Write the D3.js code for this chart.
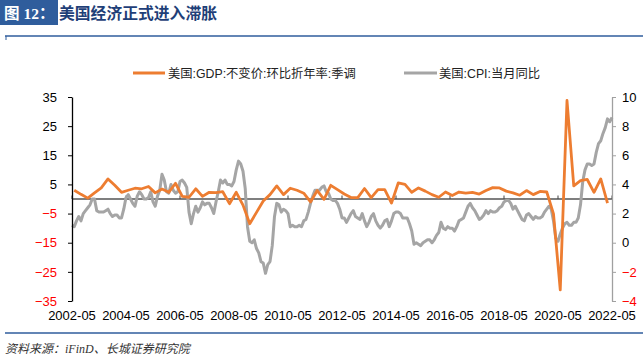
<!DOCTYPE html>
<html><head><meta charset="utf-8">
<script src="https://cdn.jsdelivr.net/npm/d3@7"></script>
<style>body{margin:0;background:#fff;} svg{display:block;}</style>
</head><body>
<svg id="c" width="643" height="358"></svg>
<script>
// ---------- DATA ----------
const startLabel = "2002-05";
// US CPI YoY (%), monthly 2002-05 .. 2022-05
const cpiValues = [
  1.2,1.1,1.5,1.8,1.5,2.0,2.2,2.4,
  2.6,3.0,3.0,2.2,2.1,2.1,2.1,2.2,2.3,2.0,1.8,1.9,
  1.9,1.7,1.7,2.3,3.1,3.3,3.0,2.7,2.5,3.2,3.5,3.3,
  3.0,3.0,3.1,3.5,2.8,2.5,3.2,3.6,4.7,4.3,3.5,3.4,
  4.0,3.6,3.4,3.5,4.2,4.3,4.1,3.8,2.1,1.3,2.0,2.5,
  2.1,2.4,2.8,2.6,2.7,2.7,2.4,2.0,2.8,3.5,4.3,4.1,
  4.3,4.0,4.0,3.9,4.2,5.0,5.6,5.4,4.9,3.7,1.1,0.1,
  0.0,0.2,-0.4,-0.7,-1.3,-1.4,-2.1,-1.5,-1.3,-0.2,1.8,2.7,
  2.6,2.1,2.3,2.2,2.0,1.1,1.2,1.1,1.1,1.2,1.1,1.5,
  1.6,2.1,2.7,3.2,3.6,3.6,3.6,3.8,3.9,3.5,3.4,3.0,
  2.9,2.9,2.7,2.3,1.7,1.7,1.4,1.7,2.0,2.2,1.8,1.7,
  1.6,2.0,1.5,1.1,1.4,1.8,2.0,1.5,1.2,1.0,1.2,1.5,
  1.6,1.1,1.5,2.0,2.1,2.1,2.0,1.7,1.7,1.7,1.3,0.8,
  -0.1,0.0,-0.1,-0.2,0.0,0.1,0.2,0.2,0.0,0.2,0.5,0.7,
  1.4,1.0,0.9,1.1,1.0,1.0,0.8,1.1,1.5,1.6,1.7,2.1,
  2.5,2.7,2.4,2.2,1.9,1.6,1.7,1.9,2.2,2.0,2.2,2.1,
  2.1,2.2,2.4,2.5,2.8,2.9,2.9,2.7,2.3,2.5,2.2,1.9,
  1.6,1.5,1.9,2.0,1.8,1.6,1.8,1.7,1.7,1.8,2.1,2.3,
  2.5,2.3,1.5,0.3,0.1,0.6,1.0,1.3,1.4,1.2,1.2,1.4,
  1.4,1.7,2.6,4.2,5.0,5.4,5.4,5.3,5.4,6.2,6.8,7.0,
  7.5,7.9,8.5,8.3,8.6
];
// US real GDP, QoQ annualized SA (%), 2002Q2 .. 2022Q1
const gdpQuarters = [
  "2002Q2","2002Q3","2002Q4",
  "2003Q1","2003Q2","2003Q3","2003Q4",
  "2004Q1","2004Q2","2004Q3","2004Q4",
  "2005Q1","2005Q2","2005Q3","2005Q4",
  "2006Q1","2006Q2","2006Q3","2006Q4",
  "2007Q1","2007Q2","2007Q3","2007Q4",
  "2008Q1","2008Q2","2008Q3","2008Q4",
  "2009Q1","2009Q2","2009Q3","2009Q4",
  "2010Q1","2010Q2","2010Q3","2010Q4",
  "2011Q1","2011Q2","2011Q3","2011Q4",
  "2012Q1","2012Q2","2012Q3","2012Q4",
  "2013Q1","2013Q2","2013Q3","2013Q4",
  "2014Q1","2014Q2","2014Q3","2014Q4",
  "2015Q1","2015Q2","2015Q3","2015Q4",
  "2016Q1","2016Q2","2016Q3","2016Q4",
  "2017Q1","2017Q2","2017Q3","2017Q4",
  "2018Q1","2018Q2","2018Q3","2018Q4",
  "2019Q1","2019Q2","2019Q3","2019Q4",
  "2020Q1","2020Q2","2020Q3","2020Q4",
  "2021Q1","2021Q2","2021Q3","2021Q4",
  "2022Q1"
];
const gdpValues = [
  3.0,1.6,0.3,
  2.1,3.8,6.9,4.7,
  2.3,3.0,3.7,3.5,
  4.3,2.1,3.4,2.3,
  5.4,0.9,0.6,3.5,
  0.9,2.3,2.2,2.5,
  -1.6,2.3,-2.1,-8.5,
  -4.6,-0.7,1.5,4.5,
  1.5,3.7,3.0,2.0,
  -1.0,2.9,-0.1,4.7,
  3.2,1.7,0.5,0.5,
  3.6,0.5,3.2,3.2,
  -1.4,5.5,5.0,2.3,
  3.8,2.7,1.5,0.6,
  2.4,1.2,2.4,2.0,
  2.3,1.7,2.9,3.9,
  3.8,2.7,2.1,1.3,
  2.9,1.5,2.6,2.4,
  -5.1,-31.2,33.8,4.5,
  6.3,6.7,2.3,6.9,
  -1.4
];
const xTickLabels = ["2002-05","2004-05","2006-05","2008-05","2010-05","2012-05","2014-05","2016-05","2018-05","2020-05","2022-05"];
const leftTicks = [35,25,15,5,-5,-15,-25,-35];
const rightTicks = [10,8,6,4,2,0,-2,-4];
const seriesNames = ["美国:GDP:不变价:环比折年率:季调","美国:CPI:当月同比"];
const titleTag = "图 12：";
const titleText = "美国经济正式进入滞胀";
const sourceText = ["资料来源：","iFinD","、长城证券研究院"];

// ---------- HELPERS ----------
const [sy, sm] = startLabel.split("-").map(Number);
const monthIdx = (y, m) => (y - sy) * 12 + (m - sm);
const labelIdx = s => { const [y,m] = s.split("-").map(Number); return monthIdx(y,m); };
const quarterIdx = q => monthIdx(+q.slice(0,4), +q.slice(5)*3);

const COL_GDP = "#ED7D31", COL_CPI = "#A5A5A5", BLUE = "#2F5D9C";
const FONT = "'Liberation Sans', Arial, 'Noto Sans CJK SC', sans-serif";

const svg = d3.select("#c");
const L = 72, R = 612, T = 97, B = 301;

const x = d3.scaleLinear().domain([0, cpiValues.length - 1]).range([L, R]);
const yL = d3.scaleLinear().domain([-35, 35]).range([B, T]);
const yR = d3.scaleLinear().domain([-4, 10]).range([B, T]);

// ---------- HEADER ----------
svg.append("rect").attr("x",0).attr("y",0).attr("width",58).attr("height",25).attr("fill",BLUE);
svg.append("text").attr("x",4).attr("y",18.5)
  .attr("font-family","'Liberation Serif','Noto Sans CJK SC',serif").attr("font-weight","bold")
  .attr("font-size",15.5).attr("fill","#fff").text(titleTag);
svg.append("text").attr("x",59).attr("y",19)
  .attr("font-family","'Noto Sans CJK SC',sans-serif").attr("font-weight","bold")
  .attr("font-size",15.8).attr("fill","#1F3F78").text(titleText);
svg.append("line").attr("x1",5).attr("x2",643).attr("y1",36).attr("y2",36)
  .attr("stroke",BLUE).attr("stroke-width",1.5);
svg.append("line").attr("x1",6).attr("x2",6).attr("y1",36).attr("y2",40)
  .attr("stroke",BLUE).attr("stroke-width",1);

// ---------- LEGEND ----------
const legend = [
  {name: seriesNames[0], color: COL_GDP, x1: 133, x2: 165, tx: 168},
  {name: seriesNames[1], color: COL_CPI, x1: 404, x2: 437, tx: 439}
];
legend.forEach(d => {
  svg.append("line").attr("x1",d.x1).attr("x2",d.x2).attr("y1",73).attr("y2",73)
    .attr("stroke",d.color).attr("stroke-width",3);
  svg.append("text").attr("x",d.tx).attr("y",77.5).attr("font-family",FONT)
    .attr("font-size",12.3).attr("fill","#222").text(d.name);
});

// ---------- ZERO LINE WITH TICKS ----------
const y0 = yL(0);
svg.append("line").attr("x1",L).attr("x2",R).attr("y1",y0).attr("y2",y0)
  .attr("stroke","#7F7F7F").attr("stroke-width",1.8);
svg.append("g").selectAll("line").data(xTickLabels).join("line")
  .attr("x1",d=>x(labelIdx(d))).attr("x2",d=>x(labelIdx(d)))
  .attr("y1",y0).attr("y2",y0-3.5).attr("stroke","#444").attr("stroke-width",1);

// ---------- SERIES ----------
const cpiLine = d3.line().x((d,i)=>x(i)).y(d=>yR(d));
svg.append("path").datum(cpiValues).attr("d",cpiLine).attr("fill","none")
  .attr("stroke",COL_CPI).attr("stroke-width",3).attr("stroke-linejoin","round");

const gdpData = gdpQuarters.map((q,i)=>({i: quarterIdx(q), v: gdpValues[i]}));
const gdpLine = d3.line().x(d=>x(d.i)).y(d=>yL(d.v));
svg.append("path").datum(gdpData).attr("d",gdpLine).attr("fill","none")
  .attr("stroke",COL_GDP).attr("stroke-width",2.8).attr("stroke-linejoin","round");

// ---------- AXES ----------
const axL = svg.append("g").attr("transform",`translate(${L},0)`)
  .call(d3.axisLeft(yL).tickValues(leftTicks).tickSize(4).tickPadding(11).tickSizeOuter(0));
axL.select(".domain").attr("stroke","#000").attr("stroke-width",1.3);
axL.selectAll(".tick line").attr("stroke","#000");
axL.selectAll(".tick text").attr("font-family",FONT).attr("font-size",13)
  .attr("fill",d=>d<0?"#FF0000":"#000");

const axR = svg.append("g").attr("transform",`translate(${R},0)`)
  .call(d3.axisRight(yR).tickValues(rightTicks).tickSize(4).tickPadding(6).tickSizeOuter(0));
axR.select(".domain").attr("stroke","#A0A0A0").attr("stroke-width",1.3);
axR.selectAll(".tick line").attr("stroke","#A0A0A0");
axR.selectAll(".tick text").attr("font-family",FONT).attr("font-size",13)
  .attr("fill",d=>d<0?"#FF0000":"#000");

// x labels
svg.append("g").selectAll("text").data(xTickLabels).join("text")
  .attr("x",d=>x(labelIdx(d))).attr("y",320).attr("text-anchor","middle")
  .attr("font-family",FONT).attr("font-size",13).attr("fill","#000").text(d=>d);

// ---------- FOOTER ----------
svg.append("line").attr("x1",5).attr("x2",643).attr("y1",333).attr("y2",333)
  .attr("stroke",BLUE).attr("stroke-width",1.5);
const ft = svg.append("text").attr("x",5).attr("y",353).attr("font-size",12)
  .attr("font-style","italic").attr("fill","#333").attr("font-family","'Noto Sans CJK SC',sans-serif");
ft.append("tspan").text(sourceText[0]);
ft.append("tspan").attr("font-family","'Liberation Serif',serif").text(sourceText[1]);
ft.append("tspan").text(sourceText[2]);
</script>
</body></html>
